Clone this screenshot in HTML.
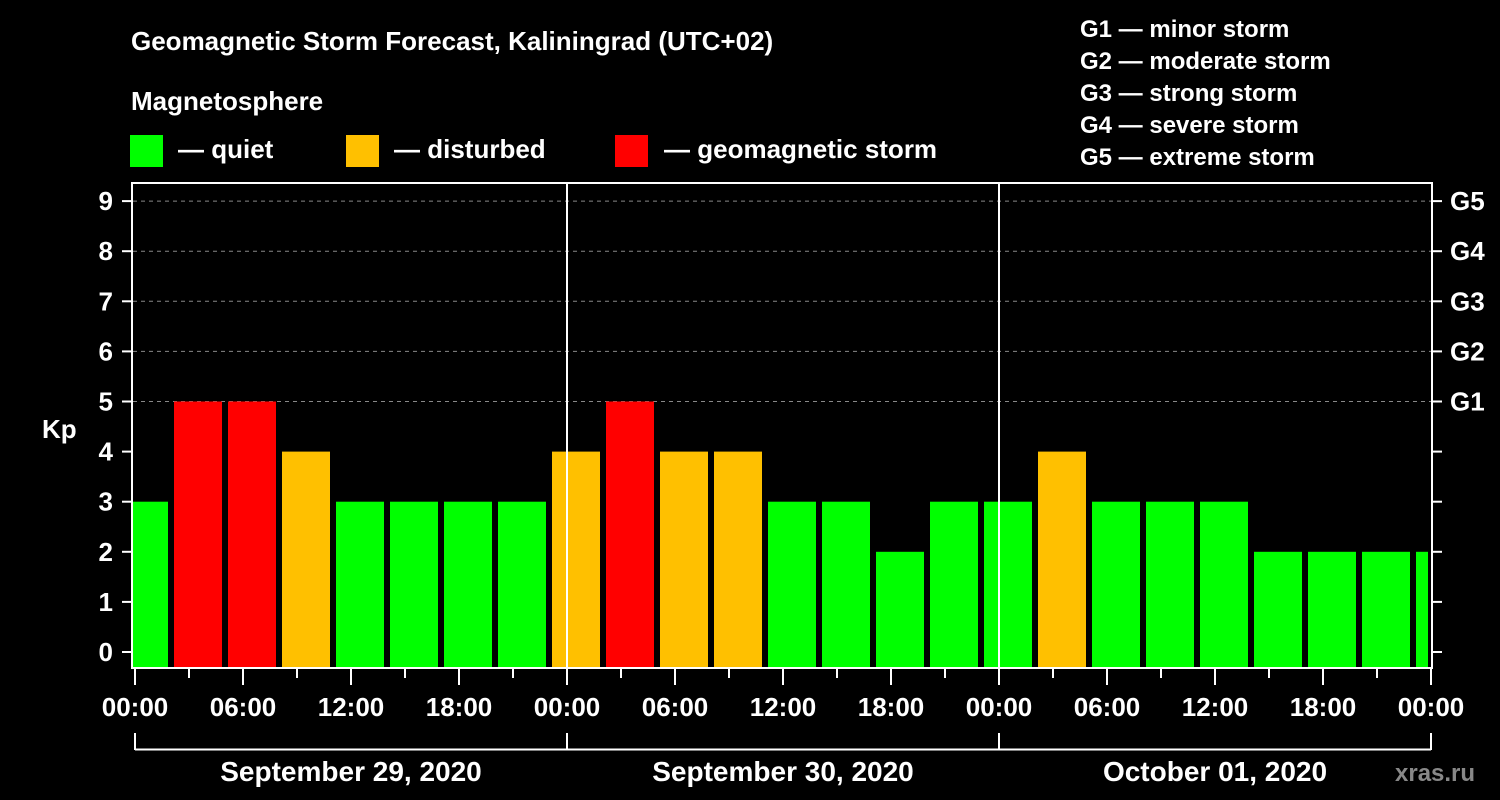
<!DOCTYPE html>
<html><head><meta charset="utf-8"><style>
html,body{margin:0;padding:0;background:#000;}
svg{display:block;font-family:"Liberation Sans",Arial,sans-serif;font-weight:bold;}
</style></head><body>
<svg id="chart" width="1500" height="800" viewBox="0 0 1500 800" xmlns="http://www.w3.org/2000/svg">
<rect width="1500" height="800" fill="#000"/>
<text x="131" y="50" fill="#fff" font-size="26">Geomagnetic Storm Forecast, Kaliningrad (UTC+02)</text>
<text x="131" y="110" fill="#fff" font-size="26">Magnetosphere</text>
<g><rect x="130" y="135" width="33" height="32" fill="#00ff00"/><text x="178" y="158" fill="#fff" font-size="26">— quiet</text></g>
<g><rect x="346" y="135" width="33" height="32" fill="#ffc000"/><text x="394" y="158" fill="#fff" font-size="26">— disturbed</text></g>
<g><rect x="615" y="135" width="33" height="32" fill="#ff0000"/><text x="664" y="158" fill="#fff" font-size="26">— geomagnetic storm</text></g>
<g fill="#fff" font-size="24">
<text x="1080" y="37">G1 — minor storm</text>
<text x="1080" y="69">G2 — moderate storm</text>
<text x="1080" y="101">G3 — strong storm</text>
<text x="1080" y="133">G4 — severe storm</text>
<text x="1080" y="165">G5 — extreme storm</text>
</g>
<text x="42" y="438" fill="#fff" font-size="26">Kp</text>
<defs><clipPath id="plotclip"><rect x="133" y="184" width="1295" height="484"/></clipPath></defs>
<g id="grid"></g>
<g id="bars" clip-path="url(#plotclip)"></g>
<g id="axes"></g>
<text x="1395" y="781" fill="#888" font-size="24">xras.ru</text>
</svg>
<script>
const kpValues = [3,5,5,4,3,3,3,3, 4,5,4,4,3,3,2,3, 3,4,3,3,3,2,2,2, 2];
const yTicks = [0,1,2,3,4,5,6,7,8,9];
const gLabels = ["G1","G2","G3","G4","G5"];
const timeLabels = ["00:00","06:00","12:00","18:00","00:00","06:00","12:00","18:00","00:00","06:00","12:00","18:00","00:00"];
const dayLabels = ["September 29, 2020","September 30, 2020","October 01, 2020"];

const NS="http://www.w3.org/2000/svg";
const xH = h => 135 + 18*h;
const yV = v => 652 - 50.1*v;
function mk(tag, attrs, parent, txt){const e=document.createElementNS(NS,tag);for(const k in attrs)e.setAttribute(k,attrs[k]);if(txt!==undefined)e.textContent=txt;parent.appendChild(e);return e;}
const grid=document.getElementById('grid'), bars=document.getElementById('bars'), axes=document.getElementById('axes');
const color = v => v>=5?"#ff0000":(v>=4?"#ffc000":"#00ff00");

yTicks.forEach(v=>{
  if(v>=5){const l=mk('line',{x1:133,x2:1431,y1:yV(v),y2:yV(v),stroke:"#888","stroke-width":1,"stroke-dasharray":"4,4"},grid);
  
  }
});
kpValues.forEach((v,k)=>{
  const x0=xH(3*k)-15;
  const r=mk('rect',{x:x0,y:yV(v),width:48,height:668-yV(v),fill:color(v)},bars);
  
  
});
// frame
const f=mk('rect',{x:132,y:183,width:1300,height:485,fill:"none",stroke:"#fff","stroke-width":2},axes);


[24,48].forEach(h=>{const l=mk('line',{x1:xH(h),x2:xH(h),y1:183,y2:668,stroke:"#fff","stroke-width":2},axes);

});
yTicks.forEach(v=>{
  mk('line',{x1:122,x2:132,y1:yV(v),y2:yV(v),stroke:"#fff","stroke-width":2},axes);
  mk('line',{x1:1432,x2:1442,y1:yV(v),y2:yV(v),stroke:"#fff","stroke-width":2},axes);
  const t=mk('text',{x:113,y:yV(v)+9,fill:"#fff","font-size":26,"text-anchor":"end"},axes,String(v));
  
  
  if(v>=5){const g=mk('text',{x:1450,y:yV(v)+9,fill:"#fff","font-size":26},axes,gLabels[v-5]);
  
  }
});
for(let h=0;h<=72;h+=3){
  const major=h%6===0;
  mk('line',{x1:xH(h),x2:xH(h),y1:669,y2:major?685:678,stroke:"#fff","stroke-width":2},axes);
}
timeLabels.forEach((s,i)=>{
  const t=mk('text',{x:xH(6*i),y:716,fill:"#fff","font-size":26,"text-anchor":"middle"},axes,s);
  
  
});
mk('line',{x1:135,x2:1431,y1:749.5,y2:749.5,stroke:"#fff","stroke-width":2},axes);
[0,24,48,72].forEach(h=>mk('line',{x1:xH(h),x2:xH(h),y1:733,y2:750,stroke:"#fff","stroke-width":2},axes));
dayLabels.forEach((s,i)=>{
  const t=mk('text',{x:xH(24*i+12),y:781,fill:"#fff","font-size":28,"text-anchor":"middle"},axes,s);
  
  
});
</script>
</body></html>
